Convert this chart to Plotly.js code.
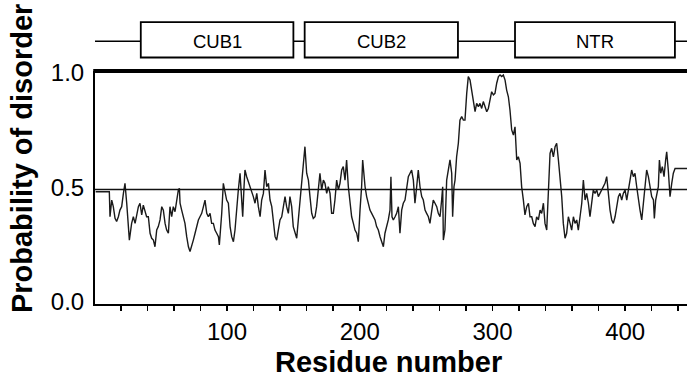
<!DOCTYPE html>
<html>
<head>
<meta charset="utf-8">
<script src="https://cdn.plot.ly/plotly-3.0.1.min.js"></script>
<style>html,body{margin:0;padding:0;background:#fff;}#chart{width:687px;height:380px;}</style>
</head>
<body>
<div id="chart"></div>
<script>
// Disorder probability profile (residue number vs probability)
const residue = [
  1, 10.6, 11.3, 11.8, 13.1, 14.3, 15.6, 16.8, 18.1, 19.3, 20.6, 21.9, 23.1, 24.4, 25.6, 26.4, 28.1, 29.4, 30.7, 31.9,
  33.2, 34.4, 35.7, 36.9, 38.2, 39.4, 40.7, 42.0, 43.2, 44.5, 45.7, 47.0, 48.2, 49.5, 50.8, 52.0, 53.3, 54.5, 55.8, 57.0,
  58.3, 59.5, 60.8, 62.1, 63.3, 64.1, 64.6, 65.8, 67.1, 68.3, 69.6, 70.9, 72.1, 73.4, 74.6, 75.9, 77.1, 78.4, 79.6, 80.9,
  82.2, 83.4, 84.7, 85.9, 87.2, 88.4, 89.7, 90.9, 92.2, 93.5, 94.2, 95.2, 96.0, 97.2, 98.5, 99.7, 101.0, 102.3, 103.5, 104.8,
  106.0, 107.3, 108.5, 109.8, 111.0, 111.8, 112.8, 113.5, 114.8, 116.1, 117.3, 118.6, 119.8, 121.1, 122.4, 123.6, 124.9, 126.1, 127.4, 128.6,
  129.9, 131.2, 132.4, 133.7, 134.9, 136.2, 137.4, 138.7, 139.9, 141.2, 142.4, 143.7, 144.9, 146.2, 147.4, 148.7, 149.9, 151.2, 152.5, 153.7,
  155.0, 156.2, 157.5, 158.7, 160.0, 161.3, 162.5, 163.8, 165.0, 166.3, 167.5, 168.8, 170.0, 171.3, 172.6, 173.8, 175.1, 176.3, 177.6, 178.8,
  180.1, 181.3, 182.6, 183.9, 185.1, 186.4, 187.6, 188.9, 190.1, 191.4, 192.6, 193.9, 195.2, 196.4, 197.7, 198.9, 200.2, 201.4, 202.2, 203.2,
  204.0, 205.2, 206.5, 207.7, 209.0, 210.2, 211.5, 212.7, 214.0, 215.3, 216.5, 217.8, 219.0, 220.3, 221.5, 222.8, 223.5, 224.3, 225.3, 226.6,
  227.8, 229.1, 230.3, 231.6, 232.8, 234.1, 235.4, 236.6, 237.9, 239.1, 240.4, 241.6, 242.9, 244.1, 245.4, 246.7, 247.9, 249.2, 250.4, 251.7,
  252.9, 254.2, 255.4, 256.7, 258.0, 259.2, 260.5, 261.7, 262.5, 263.0, 264.2, 265.5, 266.8, 268.0, 269.3, 270.0, 271.0, 271.8, 273.0, 274.3,
  275.5, 276.8, 278.1, 279.3, 280.6, 281.8, 283.1, 284.4, 285.6, 286.9, 288.1, 289.4, 290.6, 291.9, 293.1, 294.4, 295.7, 296.9, 298.2, 299.4,
  300.7, 301.9, 303.2, 304.5, 305.7, 307.0, 308.2, 309.5, 310.7, 312.0, 313.2, 314.5, 315.8, 317.0, 318.3, 319.5, 320.8, 322.0, 323.3, 324.5,
  325.8, 327.1, 328.3, 329.6, 330.8, 332.1, 333.3, 334.6, 335.9, 337.1, 338.4, 339.6, 340.9, 342.1, 343.4, 344.6, 345.9, 347.2, 348.4, 349.7,
  350.9, 352.2, 353.4, 354.7, 355.9, 357.2, 358.5, 359.7, 361.0, 362.2, 363.5, 364.7, 366.0, 367.3, 368.5, 369.8, 371.0, 372.3, 373.5, 374.8,
  376.0, 377.3, 378.6, 379.8, 381.1, 382.3, 383.6, 384.8, 386.1, 387.3, 388.6, 389.9, 391.1, 392.4, 393.6, 394.9, 396.1, 397.4, 398.6, 399.9,
  401.2, 402.4, 403.7, 404.9, 406.2, 407.4, 408.7, 409.9, 411.2, 412.5, 413.7, 415.0, 416.2, 417.5, 418.7, 420.0, 421.3, 422.0, 423.0, 423.8,
  425.0, 425.8, 426.8, 428.0, 429.3, 430.5, 431.3, 432.5, 433.8, 435.1, 436.3, 437.6, 446.6
];
const disorder = [
  0.490, 0.490, 0.490, 0.381, 0.454, 0.425, 0.374, 0.360, 0.381, 0.410, 0.425, 0.483, 0.527, 0.440, 0.323, 0.279, 0.352, 0.381, 0.352, 0.396,
  0.425, 0.440, 0.389, 0.432, 0.410, 0.381, 0.381, 0.309, 0.287, 0.279, 0.250, 0.323, 0.338, 0.367, 0.425, 0.410, 0.352, 0.323, 0.309, 0.425,
  0.381, 0.425, 0.403, 0.454, 0.498, 0.505, 0.440, 0.410, 0.381, 0.352, 0.294, 0.250, 0.229, 0.250, 0.279, 0.309, 0.338, 0.367, 0.381, 0.396,
  0.425, 0.454, 0.396, 0.381, 0.396, 0.352, 0.352, 0.323, 0.309, 0.294, 0.258, 0.323, 0.396, 0.527, 0.483, 0.454, 0.440, 0.338, 0.294, 0.272,
  0.323, 0.440, 0.498, 0.571, 0.454, 0.381, 0.512, 0.585, 0.556, 0.534, 0.512, 0.498, 0.469, 0.440, 0.483, 0.425, 0.381, 0.454, 0.483, 0.585,
  0.512, 0.527, 0.454, 0.425, 0.367, 0.294, 0.279, 0.323, 0.367, 0.381, 0.425, 0.469, 0.425, 0.396, 0.469, 0.425, 0.338, 0.309, 0.287, 0.367,
  0.454, 0.527, 0.600, 0.687, 0.571, 0.541, 0.469, 0.396, 0.374, 0.381, 0.425, 0.512, 0.571, 0.498, 0.541, 0.527, 0.483, 0.512, 0.483, 0.396,
  0.396, 0.454, 0.541, 0.498, 0.527, 0.585, 0.600, 0.541, 0.629, 0.512, 0.440, 0.381, 0.352, 0.323, 0.309, 0.272, 0.410, 0.512, 0.629, 0.556,
  0.512, 0.469, 0.440, 0.410, 0.396, 0.381, 0.367, 0.338, 0.323, 0.294, 0.272, 0.250, 0.309, 0.338, 0.367, 0.410, 0.556, 0.381, 0.367, 0.381,
  0.396, 0.425, 0.309, 0.410, 0.440, 0.454, 0.498, 0.556, 0.571, 0.585, 0.541, 0.440, 0.512, 0.585, 0.512, 0.469, 0.454, 0.410, 0.396, 0.381,
  0.352, 0.396, 0.454, 0.440, 0.425, 0.396, 0.381, 0.454, 0.512, 0.279, 0.323, 0.541, 0.600, 0.629, 0.571, 0.381, 0.512, 0.541, 0.643, 0.702,
  0.803, 0.818, 0.803, 0.803, 0.920, 0.993, 0.978, 0.934, 0.891, 0.840, 0.876, 0.862, 0.876, 0.854, 0.884, 0.862, 0.840, 0.854, 0.891, 0.927,
  0.913, 0.920, 0.964, 0.993, 1.000, 0.993, 1.000, 0.978, 0.934, 0.905, 0.847, 0.760, 0.738, 0.774, 0.629, 0.643, 0.614, 0.512, 0.454, 0.389,
  0.425, 0.440, 0.381, 0.381, 0.352, 0.338, 0.381, 0.367, 0.410, 0.396, 0.440, 0.352, 0.323, 0.483, 0.658, 0.680, 0.643, 0.687, 0.702, 0.629,
  0.556, 0.469, 0.352, 0.287, 0.309, 0.381, 0.352, 0.323, 0.381, 0.352, 0.367, 0.323, 0.381, 0.440, 0.541, 0.454, 0.483, 0.440, 0.381, 0.454,
  0.498, 0.483, 0.498, 0.469, 0.483, 0.498, 0.512, 0.527, 0.556, 0.483, 0.410, 0.367, 0.352, 0.381, 0.425, 0.469, 0.483, 0.454, 0.483, 0.498,
  0.454, 0.498, 0.541, 0.585, 0.556, 0.571, 0.512, 0.454, 0.410, 0.367, 0.440, 0.512, 0.585, 0.556, 0.512, 0.469, 0.454, 0.374, 0.454, 0.483,
  0.512, 0.629, 0.571, 0.600, 0.556, 0.629, 0.665, 0.585, 0.469, 0.527, 0.571, 0.592, 0.592
];

// Domain architecture shown above the plot
const domainNames = ["CUB1", "CUB2", "NTR"];
const domainStart = [35, 158.5, 317];
const domainEnd = [150, 274, 437.5];

const threshold = 0.5;
const xTickLabels = ["100", "200", "300", "400"];
const yTickLabels = ["0.0", "0.5", "1.0"];
const xTitle = "Residue number";
const yTitle = "Probability of disorder";

const FONT = "Liberation Sans, Arial, Helvetica, sans-serif";

const shapes = [];
const annotations = [];

// threshold line
shapes.push({type: "line", xref: "paper", yref: "y", x0: 0, x1: 1, y0: threshold, y1: threshold,
  line: {color: "#111", width: 1.6}, layer: "above"});
// thick top frame
shapes.push({type: "line", xref: "paper", yref: "paper", x0: -0.003, x1: 1, y0: 1, y1: 1,
  line: {color: "#000", width: 4}, layer: "above"});
// backbone line of domain diagram
const lineY = 1.128, boxY0 = 1.058, boxY1 = 1.21;
shapes.push({type: "line", xref: "paper", yref: "paper", x0: 0, x1: 1, y0: lineY, y1: lineY,
  line: {color: "#000", width: 1.6}});
domainNames.forEach((name, i) => {
  shapes.push({type: "rect", xref: "x", yref: "paper", x0: domainStart[i], x1: domainEnd[i], y0: boxY0, y1: boxY1,
    fillcolor: "#fff", line: {color: "#000", width: 1.8}});
  annotations.push({xref: "x", yref: "paper", x: (domainStart[i] + domainEnd[i]) / 2, y: lineY,
    text: name, showarrow: false, font: {family: FONT, size: 18.5, color: "#000"}, yanchor: "middle"});
});

// axis titles (placed as annotations for exact positioning)
annotations.push({xref: "paper", yref: "paper", x: 0.496, y: -0.249, xanchor: "center", yanchor: "middle",
  text: "<b>" + xTitle + "</b>", showarrow: false, font: {family: FONT, size: 29, color: "#000"}});
annotations.push({xref: "paper", yref: "paper", x: -0.1233, y: 0.622, xanchor: "center", yanchor: "middle",
  textangle: -90, text: "<b>" + yTitle + "</b>", showarrow: false, font: {family: FONT, size: 29, color: "#000"}});

const trace = {
  x: residue, y: disorder, type: "scatter", mode: "lines",
  line: {color: "#1a1a1a", width: 1.4}, hoverinfo: "skip", cliponaxis: true
};

const layout = {
  width: 687, height: 380,
  margin: {l: 95, r: 0, t: 71, b: 76},
  paper_bgcolor: "#fff", plot_bgcolor: "#fff",
  showlegend: false,
  font: {family: FONT, color: "#000"},
  xaxis: {
    range: [0.5, 446.6], showgrid: false, zeroline: false,
    showline: true, linecolor: "#000", linewidth: 2,
    tickmode: "array", tickvals: xTickLabels.map(Number), ticktext: xTickLabels,
    ticks: "outside", ticklen: 5, tickwidth: 1.5, tickcolor: "#000",
    minor: {tickmode: "linear", tick0: 0, dtick: 20, ticks: "outside", ticklen: 5, tickwidth: 1.5, tickcolor: "#000"},
    tickfont: {family: FONT, size: 24, color: "#000"}
  },
  yaxis: {
    range: [0, 1.0175], showgrid: false, zeroline: false,
    showline: true, linecolor: "#000", linewidth: 2,
    tickmode: "array", tickvals: yTickLabels.map(Number), ticktext: yTickLabels,
    ticks: "", ticklabelstandoff: 4, ticklabelshift: -2,
    tickfont: {family: FONT, size: 24, color: "#000"}
  },
  shapes: shapes,
  annotations: annotations
};

Plotly.newPlot("chart", [trace], layout, {staticPlot: true, displayModeBar: false});
</script>
</body>
</html>
